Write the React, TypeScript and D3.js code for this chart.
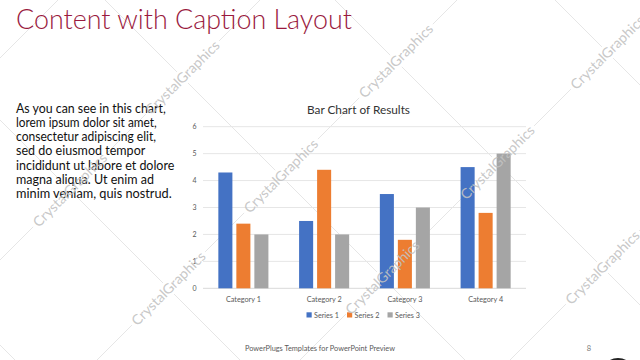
import React from "react";
import * as d3 from "d3";

const categories = ["Category 1", "Category 2", "Category 3", "Category 4"];
const seriesNames = ["Series 1", "Series 2", "Series 3"];
const series1 = [4.3, 2.5, 3.5, 4.5];
const series2 = [2.4, 4.4, 1.8, 2.8];
const series3 = [2, 2, 3, 5];
const seriesValues = [series1, series2, series3];
const yTicks = [0, 1, 2, 3, 4, 5, 6];

const slideTitle = "Content with Caption Layout";
const chartTitle = "Bar Chart of Results";
const bodyLines = [
  "As you can see in this chart,",
  "lorem ipsum dolor sit amet,",
  "consectetur adipiscing elit,",
  "sed do eiusmod tempor",
  "incididunt ut labore et dolore",
  "magna aliqua. Ut enim ad",
  "minim veniam, quis nostrud.",
];
const bodyLineWidths = [149.7, 140.7, 140, 129.3, 158.3, 138, 155.7];
const footer = "PowerPlugs Templates for PowerPoint  Preview";
const pageNumber = "8";
const watermark = "CrystalGraphics";

const colors = ["#4472C4", "#ED7D31", "#A5A5A5"];
const FONT = "Lato, 'Open Sans', sans-serif";

// watermark lattice (decoration)
const latU = [260, 457, 660, 870];
const latV = [-120, 105, 335, 555];
const extraU = [58, 1075];
const extraV = [-345, 780];

export default function App() {
  const W = 640;
  const H = 360;
  const x0 = d3
    .scaleBand<string>()
    .domain(categories)
    .range([203, 526])
    .paddingInner(0.38)
    .paddingOuter(0.19);
  const x1 = d3
    .scaleBand<string>()
    .domain(seriesNames)
    .range([0, x0.bandwidth()])
    .paddingInner(0.22);
  const y = d3.scaleLinear().domain([0, 6]).range([288.3, 126.7]);

  const pts: { x: number; y: number }[] = [];
  latU.forEach((u) =>
    latV.forEach((v) => {
      const p = { x: (u + v) / 2, y: (u - v) / 2 };
      if (p.x >= 0 && p.x <= W && p.y >= 0 && p.y <= H) pts.push(p);
    })
  );
  const allU = [...latU, ...extraU];
  const allV = [...latV, ...extraV];

  const legendX = d3.scaleLinear().domain([0, 1]).range([306.5, 347]);

  return (
    <div style={{ position: "fixed", left: 0, top: 0, width: W, height: H, background: "#fff" }}>
      <svg width={W} height={H} viewBox={`0 0 ${W} ${H}`} style={{ display: "block" }}>
        <rect x={0} y={0} width={W} height={H} fill="#ffffff" />
        {/* watermark lattice lines */}
        <g stroke="#e6e6e6" strokeWidth={1}>
          {allU.map((u, i) => (
            <line key={"u" + i} x1={u} y1={0} x2={u - 800} y2={800} />
          ))}
          {allV.map((v, i) => (
            <line key={"v" + i} x1={v} y1={0} x2={v + 800} y2={800} />
          ))}
        </g>
        <g fill="#ffffff">
          {pts.map((p, i) => (
            <rect
              key={i}
              x={-52}
              y={-8}
              width={104}
              height={16}
              transform={`translate(${p.x},${p.y}) rotate(-45)`}
            />
          ))}
        </g>

        {/* slide title */}
        <text
          x={16}
          y={29}
          fontFamily={FONT}
          fontWeight={300}
          fontSize={27}
          fill="#9A1A3E"
          textLength={336}
          lengthAdjust="spacingAndGlyphs"
        >
          {slideTitle}
        </text>

        {/* body text */}
        <g fontFamily={FONT} fontSize={12.6} fill="#111">
          {bodyLines.map((t, i) => (
            <text
              key={i}
              x={16}
              y={112.7 + i * 14.2}
              textLength={bodyLineWidths[i]}
              lengthAdjust="spacingAndGlyphs"
            >
              {t}
            </text>
          ))}
        </g>

        {/* chart title */}
        <text
          x={358.5}
          y={114}
          textAnchor="middle"
          fontFamily={FONT}
          fontSize={12}
          fill="#333"
          textLength={103}
          lengthAdjust="spacingAndGlyphs"
        >
          {chartTitle}
        </text>

        {/* gridlines */}
        <g>
          {yTicks.map((t) => (
            <line
              key={t}
              x1={203}
              x2={526}
              y1={y(t)}
              y2={y(t)}
              stroke={t === 0 ? "#d9d9d9" : "#e6e6e6"}
              strokeWidth={1}
            />
          ))}
        </g>
        {/* y tick labels */}
        <g fontFamily={FONT} fontSize={7} fill="#595959" textAnchor="end">
          {yTicks.map((t) => (
            <text key={t} x={196.5} y={y(t)} dy="0.35em">
              {t}
            </text>
          ))}
        </g>

        {/* bars */}
        <g>
          {categories.map((c, ci) => (
            <g key={c} transform={`translate(${x0(c)},0)`}>
              {seriesNames.map((s, si) => (
                <rect
                  key={s}
                  x={x1(s)}
                  y={y(seriesValues[si][ci])}
                  width={x1.bandwidth()}
                  height={y(0) - y(seriesValues[si][ci])}
                  fill={colors[si]}
                />
              ))}
            </g>
          ))}
        </g>

        {/* category labels */}
        <g fontFamily={FONT} fontSize={8} fill="#595959" textAnchor="middle">
          {categories.map((c) => (
            <text
              key={c}
              x={(x0(c) as number) + x0.bandwidth() / 2}
              y={301.5}
              textLength={35}
              lengthAdjust="spacingAndGlyphs"
            >
              {c}
            </text>
          ))}
        </g>

        {/* legend */}
        <g fontFamily={FONT} fontSize={8} fill="#595959">
          {seriesNames.map((s, i) => (
            <g key={s} transform={`translate(${legendX(i)},315)`}>
              <rect x={0} y={-2.7} width={5.2} height={5.2} fill={colors[i]} />
              <text x={7.5} y={0} dy="0.35em" textLength={25} lengthAdjust="spacingAndGlyphs">
                {s}
              </text>
            </g>
          ))}
        </g>

        {/* footer */}
        <text
          x={320}
          y={350.5}
          textAnchor="middle"
          fontFamily={FONT}
          fontSize={8}
          fill="#595959"
          textLength={150}
          lengthAdjust="spacingAndGlyphs"
        >
          {footer}
        </text>
        <text x={589} y={351} textAnchor="middle" fontFamily={FONT} fontSize={7.5} fill="#777">
          {pageNumber}
        </text>
        <ellipse cx={618} cy={369} rx={14} ry={11} fill="#222" />

        {/* watermark text */}
        <g fontFamily={FONT} fontSize={14} fill="#c2c2c2" fillOpacity={0.9} textAnchor="middle">
          {pts.map((p, i) => (
            <text
              key={i}
              transform={`translate(${p.x},${p.y}) rotate(-45)`}
              dy="0.35em"
              textLength={98}
              lengthAdjust="spacingAndGlyphs"
            >
              {watermark}
            </text>
          ))}
        </g>
      </svg>
    </div>
  );
}
